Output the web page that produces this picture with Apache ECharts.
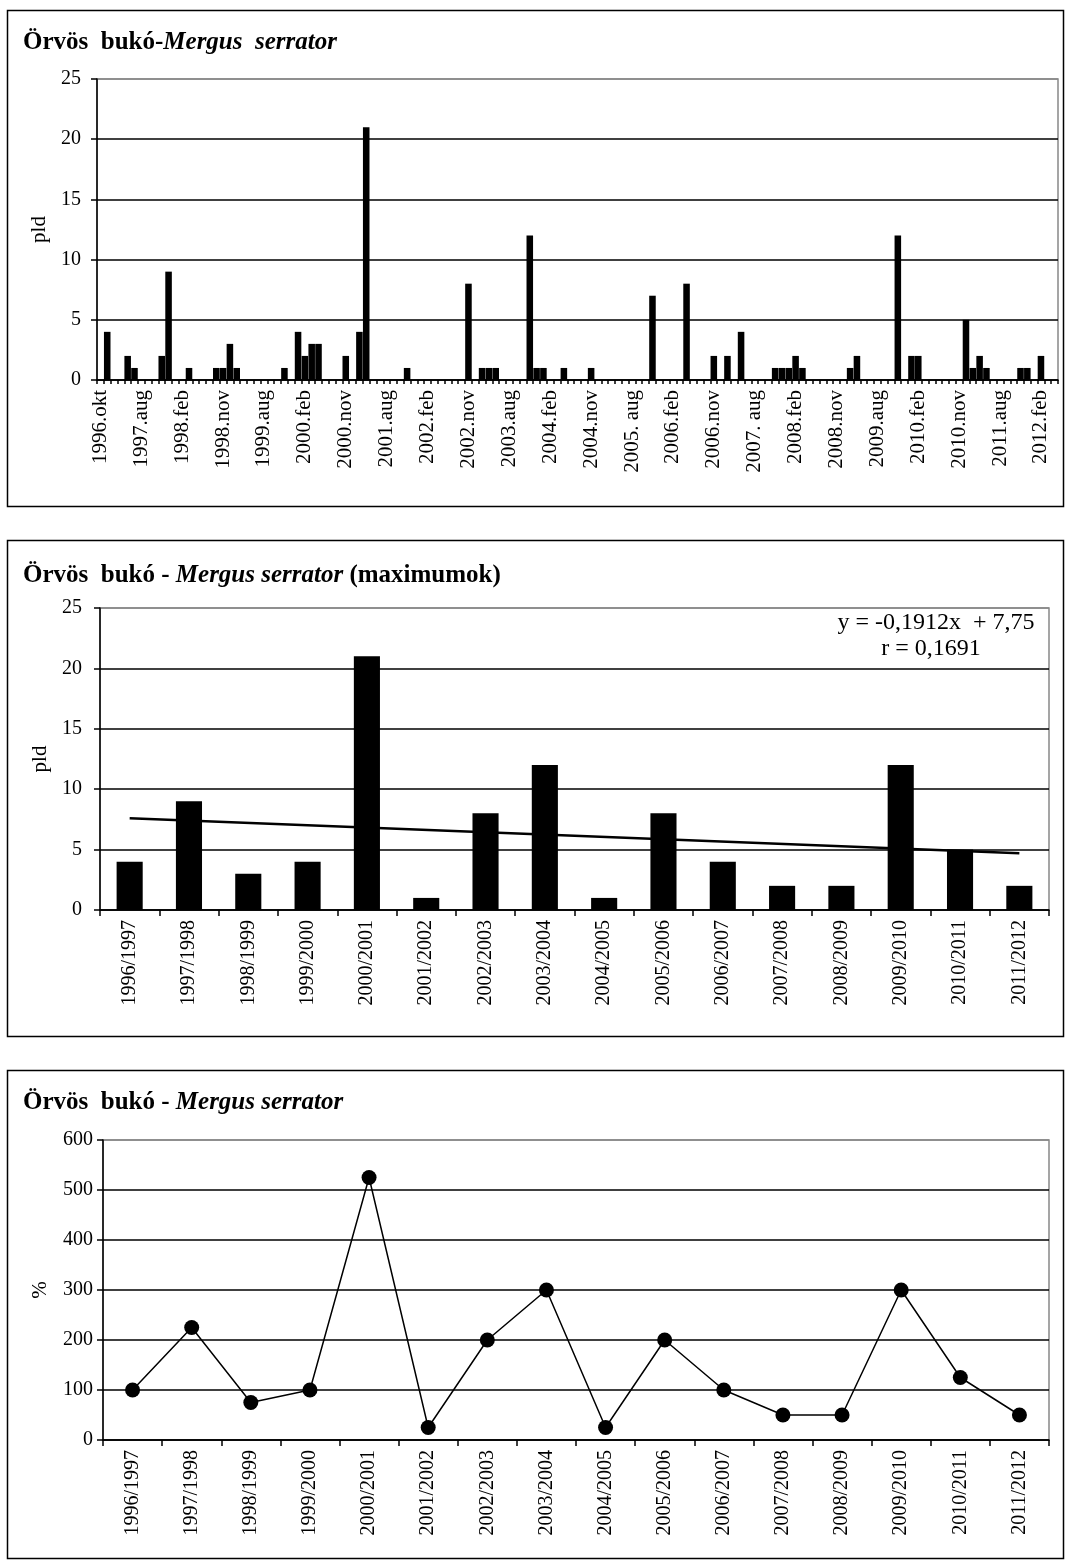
<!DOCTYPE html>
<html>
<head>
<meta charset="utf-8">
<script src="https://cdn.jsdelivr.net/npm/echarts@6/dist/echarts.min.js"></script>
<style>
  html, body { margin: 0; padding: 0; background: #fff; }
  #chart { width: 1065px; height: 1562px; }
</style>
</head>
<body>
<div id="chart"></div>
<script>
// chart 1: monthly counts, one label every 6th survey month
var tickLabels = ['1996.okt', '1997.aug', '1998.feb', '1998.nov', '1999.aug', '2000.feb',
    '2000.nov', '2001.aug', '2002.feb', '2002.nov', '2003.aug', '2004.feb', '2004.nov',
    '2005. aug', '2006.feb', '2006.nov', '2007. aug', '2008.feb', '2008.nov', '2009.aug',
    '2010.feb', '2010.nov', '2011.aug', '2012.feb'];
var monthly = [
    0, 4, 0, 0, 2, 1, 0, 0, 0, 2,
    9, 0, 0, 1, 0, 0, 0, 1, 1, 3,
    1, 0, 0, 0, 0, 0, 0, 1, 0, 4,
    2, 3, 3, 0, 0, 0, 2, 0, 4, 21,
    0, 0, 0, 0, 0, 1, 0, 0, 0, 0,
    0, 0, 0, 0, 8, 0, 1, 1, 1, 0,
    0, 0, 0, 12, 1, 1, 0, 0, 1, 0,
    0, 0, 1, 0, 0, 0, 0, 0, 0, 0,
    0, 7, 0, 0, 0, 0, 8, 0, 0, 0,
    2, 0, 2, 0, 4, 0, 0, 0, 0, 1,
    1, 1, 2, 1, 0, 0, 0, 0, 0, 0,
    1, 2, 0, 0, 0, 0, 0, 12, 0, 2,
    2, 0, 0, 0, 0, 0, 0, 5, 1, 2,
    1, 0, 0, 0, 0, 1, 1, 0, 2, 0,
    0
];

// chart 2 and 3: seasons
var seasons = ['1996/1997', '1997/1998', '1998/1999', '1999/2000', '2000/2001', '2001/2002',
    '2002/2003', '2003/2004', '2004/2005', '2005/2006', '2006/2007', '2007/2008',
    '2008/2009', '2009/2010', '2010/2011', '2011/2012'];
var maxima = [4, 9, 3, 4, 21, 1, 8, 12, 1, 8, 4, 2, 2, 12, 5, 2];
var trendEnds = [7.6, 4.7];
var percent = [100, 225, 75, 100, 525, 25, 200, 300, 25, 200, 100, 50, 50, 300, 125, 50];

var months = [];
for (var i = 0; i < monthly.length; i++) {
    months.push(i % 6 === 0 ? tickLabels[i / 6] : '');
}

var serif = "'Liberation Serif', 'Times New Roman', serif";

function titleRich(text, top) {
    return {
        text: text,
        left: 18,
        top: top,
        textStyle: {
            rich: {
                b: { fontFamily: serif, fontWeight: 'bold', fontSize: 25, color: '#000' },
                i: { fontFamily: serif, fontWeight: 'bold', fontStyle: 'italic', fontSize: 25, color: '#000' }
            }
        }
    };
}

function valueAxis(idx, max, interval, name, nameGap, labelSize, labelMargin) {
    var n = max / interval + 1;
    var colors = [];
    for (var k = 0; k < n - 1; k++) colors.push('#000');
    colors.push('#888');
    return {
        type: 'value',
        gridIndex: idx,
        min: 0,
        max: max,
        interval: interval,
        name: name,
        nameLocation: 'middle',
        nameGap: nameGap,
        nameTextStyle: { fontFamily: serif, fontSize: 21, color: '#000' },
        axisLine: { show: true, lineStyle: { color: '#000', width: 1.5 } },
        axisTick: { show: true, length: 6, lineStyle: { color: '#000', width: 1.5 } },
        axisLabel: { fontFamily: serif, fontSize: labelSize, color: '#000', margin: labelMargin },
        splitLine: { show: true, lineStyle: { color: colors, width: 1.5 } }
    };
}

function catAxis(idx, data, labelInterval, labelSize) {
    return {
        type: 'category',
        gridIndex: idx,
        data: data,
        boundaryGap: true,
        axisLine: { show: true, lineStyle: { color: '#000', width: 1.5 } },
        axisTick: { show: true, interval: 0, length: idx === 0 ? 4 : 6, lineStyle: { color: '#000', width: 1.5 } },
        axisLabel: {
            interval: labelInterval,
            rotate: 90,
            fontFamily: serif,
            fontSize: labelSize,
            color: '#000',
            margin: 10
        }
    };
}

var gridBase = { show: true, borderColor: '#888', borderWidth: 1.5, backgroundColor: 'transparent' };

var option = {
    animation: false,
    backgroundColor: '#fff',
    title: [
        titleRich('{b|Örvös  bukó-}{i|Mergus  serrator}', 25),
        titleRich('{b|Örvös  bukó - }{i|Mergus serrator}{b| (maximumok)}', 558),
        titleRich('{b|Örvös  bukó - }{i|Mergus serrator}', 1085)
    ],
    grid: [
        Object.assign({ left: 97, top: 79, width: 961, height: 301 }, gridBase),
        Object.assign({ left: 100, top: 608, width: 949, height: 302 }, gridBase),
        Object.assign({ left: 103, top: 1140, width: 946, height: 300 }, gridBase)
    ],
    xAxis: [
        catAxis(0, months, 5, 21),
        catAxis(1, seasons, 0, 20),
        catAxis(2, seasons, 0, 20)
    ],
    yAxis: [
        valueAxis(0, 25, 5, 'pld', 46, 20, 16),
        valueAxis(1, 25, 5, 'pld', 48, 20, 18),
        valueAxis(2, 600, 100, '%', 52, 20, 10)
    ],
    series: [
        {
            type: 'bar',
            xAxisIndex: 0,
            yAxisIndex: 0,
            data: monthly,
            barCategoryGap: '4%',
            itemStyle: { color: '#000' }
        },
        {
            type: 'bar',
            xAxisIndex: 1,
            yAxisIndex: 1,
            data: maxima,
            barCategoryGap: '56%',
            itemStyle: { color: '#000' }
        },
        {
            type: 'line',
            xAxisIndex: 1,
            yAxisIndex: 1,
            data: [[0, trendEnds[0]], [seasons.length - 1, trendEnds[1]]],
            symbol: 'none',
            lineStyle: { color: '#000', width: 2.5 },
            z: 5
        },
        {
            type: 'line',
            xAxisIndex: 2,
            yAxisIndex: 2,
            data: percent,
            symbol: 'circle',
            symbolSize: 15,
            itemStyle: { color: '#000' },
            lineStyle: { color: '#000', width: 1.5 }
        }
    ],
    graphic: [
        { type: 'rect', shape: { x: 7.5, y: 10.5, width: 1056, height: 496 }, style: { fill: null, stroke: '#000', lineWidth: 1.5 }, silent: true },
        { type: 'rect', shape: { x: 7.5, y: 540.5, width: 1056, height: 496 }, style: { fill: null, stroke: '#000', lineWidth: 1.5 }, silent: true },
        { type: 'rect', shape: { x: 7.5, y: 1070.5, width: 1056, height: 488 }, style: { fill: null, stroke: '#000', lineWidth: 1.5 }, silent: true },
        { type: 'text', x: 936, y: 623, style: { text: 'y = -0,1912x  + 7,75', font: '24px ' + serif, fill: '#000', textAlign: 'center', textVerticalAlign: 'middle' }, z: 10 },
        { type: 'text', x: 931, y: 649, style: { text: 'r = 0,1691', font: '24px ' + serif, fill: '#000', textAlign: 'center', textVerticalAlign: 'middle' }, z: 10 }
    ]
};

var chart = echarts.init(document.getElementById('chart'));
chart.setOption(option);
</script>
</body>
</html>
